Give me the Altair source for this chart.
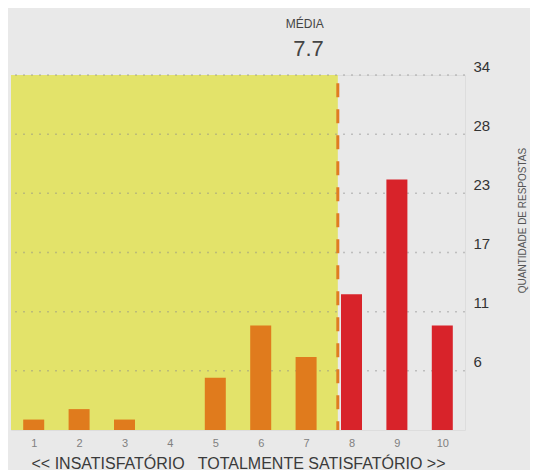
import altair as alt
import pandas as pd

scores = [1, 2, 3, 4, 5, 6, 7, 8, 9, 10]
counts = [1, 2, 1, 0, 5, 10, 7, 13, 24, 10]
y_ticks = [5.667, 11.333, 17.0, 22.667, 28.333, 34.0]
x_title = "<< INSATISFATÓRIO\u00a0\u00a0 TOTALMENTE SATISFATÓRIO >>"
y_title = "QUANTIDADE DE RESPOSTAS"
mean_label = "MÉDIA"

total = sum(counts)
mean = sum(s * c for s, c in zip(scores, counts)) / total

bars_df = pd.DataFrame({"score": scores, "count": counts})
band_df = pd.DataFrame({"score": [0.5], "hi": [mean], "count": [0], "y1": [34]})
grid_df = pd.DataFrame({"count": y_ticks})
mean_df = pd.DataFrame({"score": [mean], "label": [f"{mean:.1f}"], "count": [33.2], "bottom": [0]})

xscale = alt.Scale(domain=[0.5, 10.5], nice=False, zero=False, padding=0)
yscale = alt.Scale(domain=[0, 34], nice=False, padding=0)

x_axis = alt.Axis(
    values=scores, format="d", title=x_title, grid=False, domain=False,
    ticks=False, labelPadding=7, labelFontSize=11, labelColor="#808080",
    titleFontSize=16, titleColor="#3a3a3a", titleFontWeight="normal",
    titlePadding=7,
)
y_axis = alt.Axis(
    orient="right", values=y_ticks,
    labelExpr="format(round(datum.value), 'd')",
    grid=False, domain=False, ticks=False, labelPadding=8,
    labelFontSize=15, labelColor="#333", labelBaseline="bottom",
    labelOffset=-1, title=y_title, titleAngle=270, titleFontSize=10,
    titleColor="#555", titleFontWeight="normal", titleX=57, titleY=145,
    titleAlign="center", titleBaseline="middle",
)

X = alt.X("score:Q", scale=xscale, axis=x_axis)
Y = alt.Y("count:Q", scale=yscale, axis=y_axis)

band = alt.Chart(band_df).mark_rect(color="#e3e36a").encode(
    x=X, x2="hi:Q", y=Y, y2="y1:Q",
)

grid = alt.Chart(grid_df).mark_rule(
    color="#8a8a8a", strokeDash=[2, 6], strokeWidth=1.5, opacity=0.45
).encode(y=Y)

mean_rule = alt.Chart(mean_df).mark_rule(
    color="#e07b22", strokeWidth=3, strokeDash=[14, 12]
).encode(x=X, y=Y, y2="bottom:Q")

mean_title = alt.Chart(mean_df).mark_text(
    align="right", dx=-14, fontSize=12, color="#444", baseline="alphabetic"
).encode(x=X, y=alt.value(-47), text=alt.value(mean_label))

mean_value = alt.Chart(mean_df).mark_text(
    align="right", dx=-14, fontSize=22, color="#444", baseline="alphabetic"
).encode(x=X, y=alt.value(-19), text="label:N")

bars = alt.Chart(bars_df).mark_bar(size=21).encode(
    x=X,
    y=Y,
    color=alt.condition(
        f"datum.score > {mean}", alt.value("#d8232a"), alt.value("#e07b1d")
    ),
)

chart = alt.layer(band, grid, mean_rule, bars, mean_title, mean_value).properties(
    width=454,
    height=355,
    autosize=alt.AutoSizeParams(type="none"),
    padding={"left": 3, "top": 67, "right": 65, "bottom": 40},
    background="#e9e9e9",
).configure_view(strokeWidth=0).configure(font="Liberation Sans")

chart.save("out.html", embed_options={"renderer": "svg", "actions": False})
